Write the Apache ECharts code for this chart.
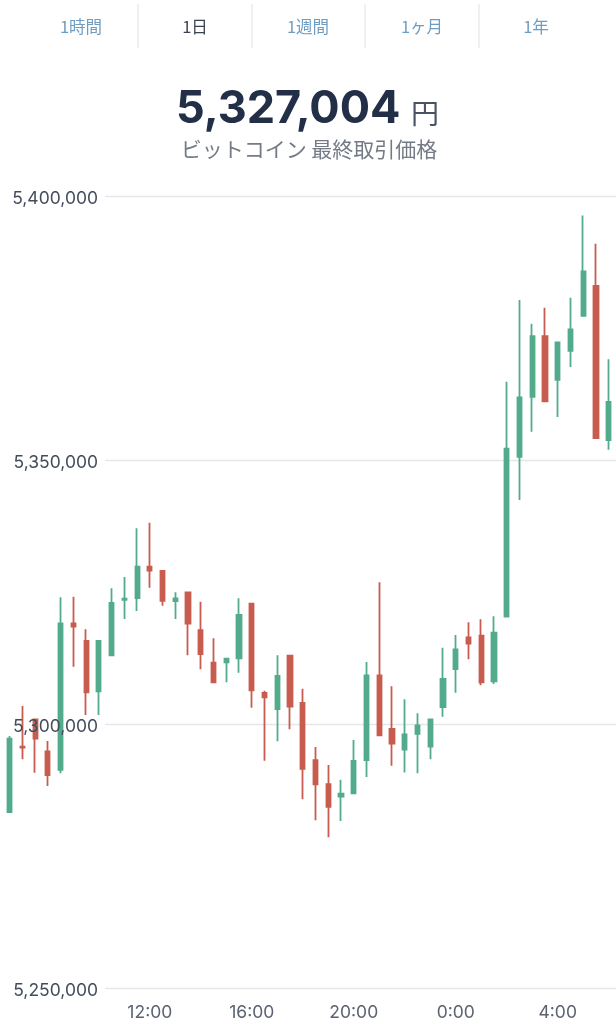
<!DOCTYPE html>
<html>
<head>
<meta charset="utf-8">
<script src="https://cdn.jsdelivr.net/npm/echarts@6/dist/echarts.min.js"></script>
<style>
html, body { margin: 0; padding: 0; background: #fff; }
#chart { width: 616px; height: 1024px; }
</style>
</head>
<body>
<div id="chart"></div>
<script>
var tabs = ['1時間', '1日', '1週間', '1ヶ月', '1年'];
var activeTab = '1日';
var lastPrice = '5,327,004';
var priceUnit = '円';
var subtitle = 'ビットコイン 最終取引価格';

var times = ['6:30', '7:00', '7:30', '8:00', '8:30', '9:00', '9:30', '10:00', '10:30', '11:00', '11:30', '12:00',
    '12:30', '13:00', '13:30', '14:00', '14:30', '15:00', '15:30', '16:00', '16:30', '17:00', '17:30', '18:00',
    '18:30', '19:00', '19:30', '20:00', '20:30', '21:00', '21:30', '22:00', '22:30', '23:00', '23:30', '0:00',
    '0:30', '1:00', '1:30', '2:00', '2:30', '3:00', '3:30', '4:00', '4:30', '5:00', '5:30', '6:00'];
var timeLabels = ['12:00', '16:00', '20:00', '0:00', '4:00'];

var opens = [5283440, 5295810, 5300960, 5294940, 5291400, 5319180, 5315830, 5306300, 5313120, 5323650, 5323970, 5329900,
    5329090, 5323410, 5325050, 5317910, 5311720, 5311800, 5312550, 5322900, 5305980, 5302950, 5313050, 5304090,
    5293240, 5288690, 5286340, 5286990, 5293290, 5309330, 5299160, 5295280, 5298220, 5295810, 5303330, 5310530,
    5316530, 5316830, 5308200, 5320430, 5350740, 5362100, 5373600, 5365320, 5370810, 5377440, 5383120, 5353900];
var closes = [5297330, 5295620, 5297330, 5290450, 5319180, 5318540, 5306110, 5315830, 5323030, 5323840, 5329900, 5329150,
    5323460, 5323920, 5319110, 5313370, 5308010, 5312480, 5320760, 5306490, 5305170, 5309200, 5303390, 5291590,
    5288690, 5284390, 5286910, 5293100, 5309330, 5297970, 5296380, 5298160, 5299860, 5301000, 5308630, 5314260,
    5315320, 5308010, 5317400, 5352250, 5361990, 5373600, 5361230, 5372400, 5374870, 5385850, 5354280, 5361150];
var lows = [5283440, 5293430, 5290890, 5288370, 5290770, 5310960, 5301820, 5301820, 5313120, 5320000, 5321510, 5325930,
    5322520, 5320000, 5313120, 5310470, 5308010, 5308010, 5309830, 5303200, 5293160, 5296830, 5299110, 5285850,
    5281870, 5278650, 5281740, 5286990, 5290070, 5297970, 5292210, 5290920, 5290770, 5293430, 5301490, 5306040,
    5312370, 5307440, 5307690, 5320430, 5342540, 5355470, 5361230, 5358260, 5367730, 5377440, 5354280, 5352060];
var highs = [5297840, 5303520, 5301060, 5296890, 5324110, 5324220, 5318050, 5315830, 5325810, 5327950, 5337180, 5338240,
    5329090, 5325050, 5325050, 5323270, 5316340, 5312550, 5323920, 5322900, 5306420, 5313120, 5313050, 5306800,
    5295750, 5292350, 5289560, 5297080, 5311850, 5326950, 5307250, 5304790, 5302140, 5301000, 5314560, 5316970,
    5319370, 5319940, 5320510, 5364940, 5380420, 5375930, 5378960, 5372400, 5380850, 5396460, 5391080, 5369190];

var candles = times.map(function (t, i) {
    return [opens[i], closes[i], lows[i], highs[i]];
});

var yMin = 5250000, yMax = 5400000;
var green = '#52ab8a', red = '#c75c4f';
var cjk = '"Noto Sans CJK JP", sans-serif';
var num = 'Inter, "Noto Sans", sans-serif';

var tabX = [81, 195, 308, 422, 536];
var sepX = [138, 252, 365, 479];
var graphic = [];
tabs.forEach(function (t, i) {
    graphic.push({
        type: 'text', x: tabX[i], y: 27,
        style: {
            text: t, font: '16.5px ' + cjk, align: 'center', verticalAlign: 'middle',
            fill: t === activeTab ? '#3a4252' : '#6f9dc2'
        }
    });
});
sepX.forEach(function (x) {
    graphic.push({
        type: 'line', shape: { x1: x, y1: 4, x2: x, y2: 48 },
        style: { stroke: '#e6e8eb', lineWidth: 1.3 }
    });
});
graphic.push({
    type: 'text', x: 176, y: 109,
    style: { text: lastPrice, font: '700 45px ' + num, align: 'left', verticalAlign: 'middle', fill: '#232f47' }
});
graphic.push({
    type: 'text', x: 411, y: 113,
    style: { text: priceUnit, font: '28px ' + cjk, align: 'left', verticalAlign: 'middle', fill: '#4a5364' }
});
graphic.push({
    type: 'text', x: 309, y: 149,
    style: { text: subtitle, font: '21px ' + cjk, align: 'center', verticalAlign: 'middle', fill: '#747b86' }
});

var chart = echarts.init(document.getElementById('chart'));
chart.setOption({
    animation: false,
    backgroundColor: '#fff',
    graphic: graphic,
    grid: [
        { left: 3.2, right: 0.9, top: 196.7, height: 791.8 },
        { left: 105, right: 0, top: 196.7, height: 791.8 },
        // labels sit a little below their grid lines and above the candles
        { left: 105, right: 0, top: 198.7, height: 791.8 }
    ],
    xAxis: [
        {
            type: 'category', gridIndex: 0, data: times,
            axisLine: { show: false }, axisTick: { show: false }, splitLine: { show: false },
            axisLabel: {
                margin: 15,
                color: '#5b6371',
                fontFamily: num,
                fontSize: 17.5,
                interval: function (i, v) { return timeLabels.indexOf(v) >= 0; }
            }
        },
        { type: 'category', gridIndex: 1, data: [], show: false },
        { type: 'category', gridIndex: 2, data: [], show: false }
    ],
    yAxis: [
        { type: 'value', gridIndex: 0, min: yMin, max: yMax, show: false },
        {
            type: 'value', gridIndex: 1, min: yMin, max: yMax, interval: 50000,
            axisLine: { show: false }, axisTick: { show: false }, axisLabel: { show: false },
            splitLine: { show: true, lineStyle: { color: '#e4e6ea', width: 1.3 } }
        },
        {
            type: 'value', gridIndex: 2, min: yMin, max: yMax, interval: 50000,
            zlevel: 1,
            axisLine: { show: false }, axisTick: { show: false }, splitLine: { show: false },
            axisLabel: {
                margin: 7,
                color: '#444c5b',
                fontFamily: num,
                fontSize: 17.5,
                formatter: function (v) { return v.toLocaleString('en-US'); }
            }
        }
    ],
    series: [{
        type: 'candlestick',
        xAxisIndex: 0,
        yAxisIndex: 0,
        barWidth: 4.6,
        data: candles,
        itemStyle: {
            color: green,
            color0: red,
            borderColor: green,
            borderColor0: red,
            borderWidth: 1.8
        }
    }]
});
</script>
</body>
</html>
